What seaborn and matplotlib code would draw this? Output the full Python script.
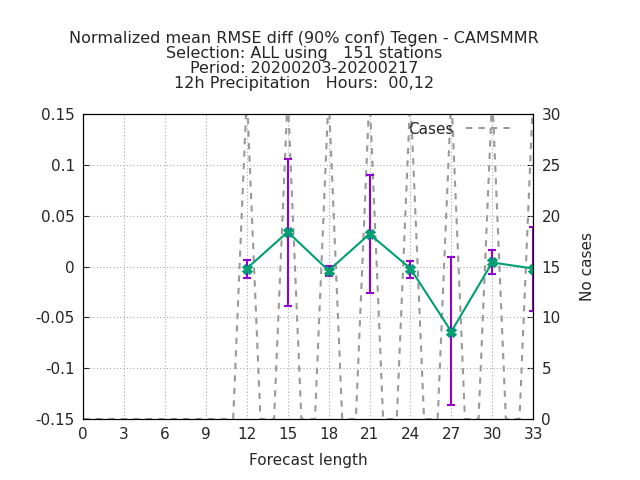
import numpy as np
import matplotlib
matplotlib.use("Agg")
import matplotlib.pyplot as plt
import seaborn as sns

# --- data ---
lead = [12, 15, 18, 21, 24, 27, 30, 33]
diff = [-0.002, 0.034, -0.004, 0.032, -0.002, -0.064, 0.004, -0.002]
lo = [-0.011, -0.039, -0.009, -0.026, -0.011, -0.136, -0.007, -0.044]
hi = [0.006, 0.106, 0.001, 0.090, 0.005, 0.009, 0.016, 0.039]

case_hours = list(range(0, 34))
cases = [0] * 12 + [32, 0, 0, 32, 0, 0, 32, 0, 0, 32, 0, 0, 32, 0, 0, 32, 0, 0, 32, 0, 0, 32]

sns.set_style("white")
plt.rcParams['font.family'] = ['DejaVu Sans']

fig = plt.figure(figsize=(6.4, 4.8), dpi=100)
ax = fig.add_axes([0.13, 0.127, 0.703, 0.6355])
ax2 = ax.twinx()

sns.lineplot(x=case_hours, y=cases, ax=ax2, color='#999999', linestyle=(0, (3, 3)),
             linewidth=1.5, label='Cases')
ax2.set_ylim(0, 30)
ax2.set_yticks(range(0, 31, 5))
ax2.set_ylabel('No cases', fontsize=11, labelpad=14)
ax2.legend(loc='upper right', frameon=False, fontsize=11, handlelength=3,
           markerfirst=False, borderaxespad=0.1, bbox_to_anchor=(0.97, 1.0))

ax.set_zorder(ax2.get_zorder() + 1)
ax.patch.set_visible(False)

yerr = np.array([np.array(diff) - np.array(lo), np.array(hi) - np.array(diff)])
ax.errorbar(lead, diff, yerr=yerr, fmt='none', ecolor='#9400d3', elinewidth=1.5,
            capsize=3, capthick=1.5)
sns.lineplot(x=lead, y=diff, ax=ax, color='#009e73', linewidth=1.5, marker='X',
             markersize=7, markeredgecolor='#009e73')

ax.set_xlim(0, 33)
ax.set_ylim(-0.15, 0.15)
ax.set_xticks(range(0, 34, 3))
ax.set_yticks([-0.15, -0.1, -0.05, 0, 0.05, 0.1, 0.15])
ax.set_yticklabels(['-0.15', '-0.1', '-0.05', '0', '0.05', '0.1', '0.15'])
ax.grid(True, color='#aaaaaa', linestyle=(0, (1, 2)), linewidth=0.8)
ax.set_xlabel('Forecast length', fontsize=11, labelpad=8)
for a in (ax, ax2):
    a.tick_params(labelsize=11, direction='in', length=4, pad=6)
    for s in a.spines.values():
        s.set_color('black')

fig.text(0.475, 0.81, 'Normalized mean RMSE diff (90% conf) Tegen - CAMSMMR\n'
         'Selection: ALL using   151 stations\nPeriod: 20200203-20200217\n'
         '12h Precipitation   Hours:  00,12', ha='center', va='bottom', fontsize=11.5,
         linespacing=1.0)

fig.savefig('out.png', dpi=100)
